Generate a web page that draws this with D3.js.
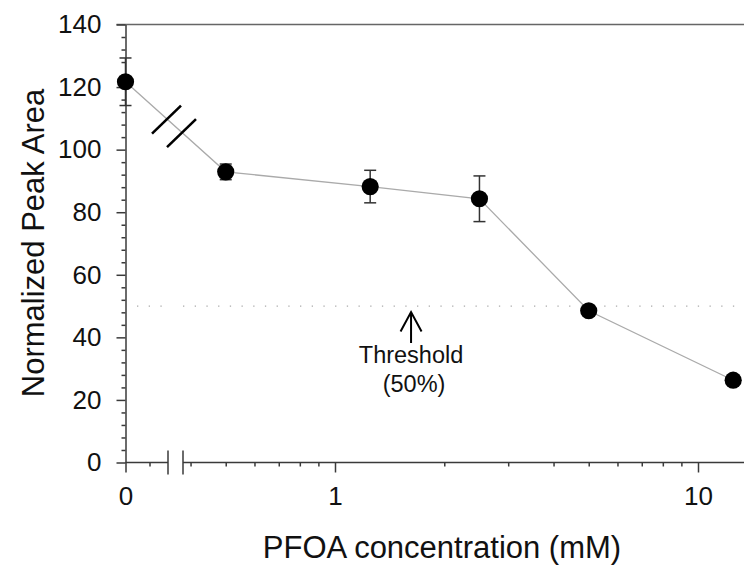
<!DOCTYPE html>
<html>
<head>
<meta charset="utf-8">
<script src="https://cdn.jsdelivr.net/npm/d3@7"></script>
<style>
  body { margin: 0; background: #fff; }
  svg text { font-family: "Liberation Sans", Arial, sans-serif; fill: #111; }
</style>
</head>
<body>
<div class="canvas"></div>
<script>
// data
const conc  = [0, 0.5, 1.25, 2.5, 5, 12.5]
const area  = [121.7, 92.9, 88.2, 84.3, 48.5, 26.3]
const err   = [7.6, 2.5, 5.2, 7.3, 1.6, 1.0]
const yTicks = [0, 20, 40, 60, 80, 100, 120, 140]
const xMajor = [1, 10]
const xMinor = [0.4, 0.5, 0.6, 0.7, 0.8, 0.9, 2, 3, 4, 5, 6, 7, 8, 9]
const threshold = 50
const arrowAt = 1.62

const width = 744
const height = 565
const plotLeft = 125.5, plotTop = 24.5, plotBottom = 462.5
const breakL = 168, breakR = 183

const svg = d3.select(".canvas")
    .append("svg")
    .attr("width", width)
    .attr("height", height)

const y = d3.scaleLinear().domain([0, 140]).range([plotBottom, plotTop])
// zero gets its own short linear piece left of the axis break
const xZero = d3.scaleLinear().domain([0, 0.18]).range([plotLeft, plotLeft + 43.2])
const xLog = d3.scaleLog().domain([1, 10]).range([335, 698])
const xPos = v => v <= 0 ? xZero(v) : xLog(v)

const axisColor = "#3a3a3a"

// top frame line
svg.append("line")
    .attr("x1", plotLeft - 9).attr("x2", width)
    .attr("y1", plotTop).attr("y2", plotTop)
    .attr("stroke", "#666").attr("stroke-width", 1.5)

// y axis
const yAxis = svg.append("g")
    .attr("transform", `translate(${plotLeft},0)`)
    .call(d3.axisLeft(y).tickValues(yTicks).tickSize(9).tickPadding(15).tickSizeOuter(0))
yAxis.select(".domain").attr("stroke", axisColor).attr("stroke-width", 1.5)

svg.append("g")
    .attr("transform", `translate(${plotLeft},0)`)
    .call(d3.axisLeft(y).tickValues(d3.range(0, 141, 4).filter(v => v % 20)).tickSize(4).tickFormat(""))
    .call(g => g.select(".domain").remove())

// x axis, left piece (zero)
const xa1 = svg.append("g").attr("transform", `translate(0,${plotBottom})`)
xa1.append("line").attr("x1", plotLeft).attr("x2", breakL).attr("stroke", axisColor).attr("stroke-width", 1.5)
xa1.append("g").call(d3.axisBottom(xZero).tickValues([0]).tickSize(10).tickPadding(14).tickFormat(d3.format("d")))
    .call(s => s.select(".domain").remove())
xa1.append("g").call(d3.axisBottom(xZero).tickValues([0.1]).tickSize(4).tickFormat(""))
    .call(s => s.select(".domain").remove())

// x axis, log piece
const xa2 = svg.append("g").attr("transform", `translate(0,${plotBottom})`)
xa2.append("line").attr("x1", breakR).attr("x2", width).attr("stroke", axisColor).attr("stroke-width", 1.5)
xa2.append("g").call(d3.axisBottom(xLog).tickValues(xMajor).tickSize(10).tickPadding(14).tickFormat(d3.format("d")))
    .call(s => s.select(".domain").remove())
xa2.append("g").call(d3.axisBottom(xLog).tickValues(xMinor).tickSize(4).tickFormat(""))
    .call(s => s.select(".domain").remove())

svg.selectAll(".tick line").attr("stroke", axisColor).attr("stroke-width", 1.5)
svg.selectAll(".tick text").attr("font-size", 26).attr("fill", "#111")
    .attr("font-family", "Liberation Sans, Arial, sans-serif")

// break marks on the axis
svg.selectAll(".brk")
    .data([breakL, breakR])
    .enter().append("line")
    .attr("x1", d => d).attr("x2", d => d)
    .attr("y1", plotBottom - 12).attr("y2", plotBottom + 12)
    .attr("stroke", axisColor).attr("stroke-width", 1.5)

// threshold dotted line
svg.selectAll(".thr")
    .data([[137, breakL - 4], [breakR, width]])
    .enter().append("line")
    .attr("x1", d => d[0]).attr("x2", d => d[1])
    .attr("y1", y(threshold)).attr("y2", y(threshold))
    .attr("stroke", "#aaa").attr("stroke-width", 1.3)
    .attr("stroke-dasharray", "1.3,10.4")

// data line
const pts = conc.map((c, i) => [xPos(c), y(area[i])])
svg.append("path")
    .attr("d", d3.line()(pts))
    .attr("fill", "none")
    .attr("stroke", "#aaa")
    .attr("stroke-width", 1.3)

// slashes where the line crosses the break
const lineYAt = px => pts[0][1] + (px - pts[0][0]) / (pts[1][0] - pts[0][0]) * (pts[1][1] - pts[0][1])
svg.selectAll(".slash")
    .data([breakL - 1.5, breakR - 1.5])
    .enter().append("line")
    .attr("x1", d => d - 14.5).attr("y1", d => lineYAt(d) + 1 + 14)
    .attr("x2", d => d + 14.5).attr("y2", d => lineYAt(d) + 1 - 14)
    .attr("stroke", "#000").attr("stroke-width", 2.6)

// error bars
const eb = svg.append("g").attr("stroke", "#333").attr("stroke-width", 1.5)
conc.forEach((c, i) => {
    const cx = xPos(c)
    eb.append("line").attr("x1", cx).attr("x2", cx)
        .attr("y1", y(area[i] - err[i])).attr("y2", y(area[i] + err[i]))
    ;[area[i] - err[i], area[i] + err[i]].forEach(v => {
        eb.append("line").attr("x1", cx - 6).attr("x2", cx + 6)
            .attr("y1", y(v)).attr("y2", y(v))
    })
})

// points
svg.selectAll(".pt")
    .data(conc)
    .enter().append("circle")
    .attr("cx", d => xPos(d))
    .attr("cy", (d, i) => y(area[i]))
    .attr("r", 8.6)
    .attr("fill", "#000")

// threshold annotation
const ax = xLog(arrowAt)
const ay = y(threshold) + 6
svg.append("path")
    .attr("d", `M${ax},${ay + 31}V${ay}M${ax - 10.5},${ay + 19.5}L${ax},${ay}L${ax + 10.5},${ay + 19.5}`)
    .attr("fill", "none").attr("stroke", "#000").attr("stroke-width", 2)
svg.append("text")
    .attr("x", ax).attr("y", ay + 51)
    .attr("text-anchor", "middle").attr("font-size", 23.5)
    .text("Threshold")
svg.append("text")
    .attr("x", ax + 3).attr("y", ay + 80)
    .attr("text-anchor", "middle").attr("font-size", 23.5)
    .text("(50%)")

// axis titles
svg.append("text")
    .attr("x", 442).attr("y", 558)
    .attr("text-anchor", "middle").attr("font-size", 31)
    .text("PFOA concentration (mM)")
svg.append("text")
    .attr("transform", `translate(44,243) rotate(-90)`)
    .attr("text-anchor", "middle").attr("font-size", 31)
    .text("Normalized Peak Area")
</script>
</body>
</html>
